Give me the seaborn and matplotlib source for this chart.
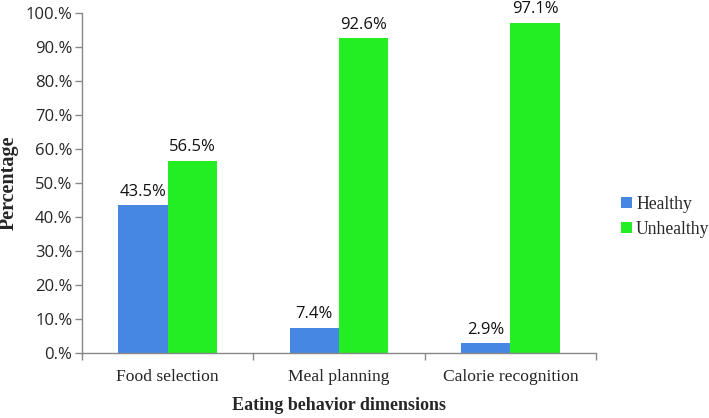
import matplotlib
matplotlib.use('Agg')
import matplotlib.pyplot as plt
from matplotlib.ticker import FuncFormatter, FixedLocator
import pandas as pd
import seaborn as sns

# values
dimensions = ['Food selection', 'Meal planning', 'Calorie recognition']
healthy = [43.5, 7.4, 2.9]
unhealthy = [56.5, 92.6, 97.1]
groups = ['Healthy', 'Unhealthy']
y_ticks = [0, 10, 20, 30, 40, 50, 60, 70, 80, 90, 100]

df = pd.DataFrame({
    'dim': dimensions * 2,
    'group': ['Healthy'] * 3 + ['Unhealthy'] * 3,
    'pct': healthy + unhealthy,
})

sns.set_style('white')
plt.rcParams['font.family'] = ['Liberation Serif', 'DejaVu Serif']

fig = plt.figure(figsize=(7.09, 4.18), dpi=100)
ax = fig.add_axes([0.1157, 0.1555, 0.7249, 0.8135])

sns.barplot(data=df, x='dim', y='pct', hue='group', hue_order=groups,
            palette=['#4787e4', '#22ee22'], width=0.575, gap=0,
            saturation=1, linewidth=0, ax=ax, legend=True)

for cont in ax.containers:
    ax.bar_label(cont, labels=[f'{b.get_height():.1f}%' for b in cont],
                 padding=4, fontsize=12, family='Open Sans', color='#111111')

ax.set_ylim(0, 100)
ax.set_xlim(-0.5, 2.5)
ax.yaxis.set_major_locator(FixedLocator(y_ticks))
ax.yaxis.set_major_formatter(FuncFormatter(lambda v, p: f'{v:.0f}.%'))
for t in ax.get_yticklabels():
    t.set_family('Open Sans')
    t.set_fontsize(12)
ax.tick_params(axis='y', which='major', left=True, length=5, width=1, color='#888888', pad=2)
ax.tick_params(axis='x', which='major', bottom=False, labelsize=12.6, pad=8)
ax.xaxis.set_minor_locator(FixedLocator([-0.5, 0.5, 1.5, 2.5]))
ax.tick_params(axis='x', which='minor', bottom=True, length=5, width=1, color='#888888')

for s in ['top', 'right']:
    ax.spines[s].set_visible(False)
for s in ['left', 'bottom']:
    ax.spines[s].set_color('#888888')
    ax.spines[s].set_linewidth(1)

ax.set_xlabel('Eating behavior dimensions', fontsize=13, fontweight='bold', labelpad=9)
ax.set_ylabel('Percentage', fontsize=14.5, fontweight='bold', labelpad=5)

ax.legend(loc='center left', bbox_to_anchor=(1.035, 0.40), frameon=False,
          fontsize=12.7, handlelength=0.6, handleheight=0.6, handletextpad=0.25,
          labelspacing=0.45, borderaxespad=0)

fig.savefig('out.png', dpi=100)
